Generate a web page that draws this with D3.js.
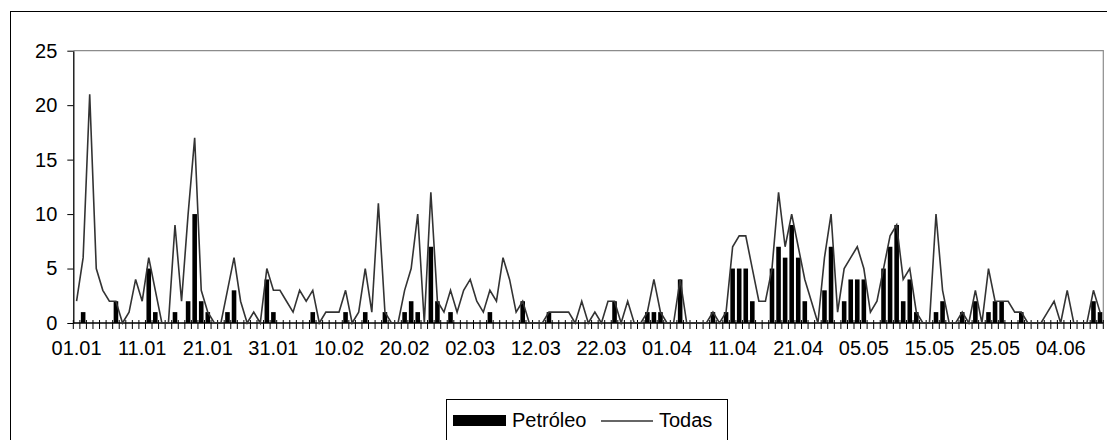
<!DOCTYPE html>
<html>
<head>
<meta charset="utf-8">
<script src="https://cdn.jsdelivr.net/npm/d3@7"></script>
<style>
body { margin: 0; background: #fff; }
svg { display: block; }
text { font-family: "Liberation Sans", Arial, sans-serif; fill: #000; }
</style>
</head>
<body>
<script>
// dias del eje (del 01.05 al 04.05 no hay datos)
const meses = [["01", 1, 31], ["02", 1, 28], ["03", 1, 31], ["04", 1, 30], ["05", 5, 31], ["06", 1, 10]];
const fechas = [];
meses.forEach(function (m) {
    for (var d = m[1]; d <= m[2]; d++) fechas.push(String(d).padStart(2, "0") + "." + m[0]);
});

const etiquetas = ["01.01", "11.01", "21.01", "31.01", "10.02", "20.02", "02.03", "12.03",
    "22.03", "01.04", "11.04", "21.04", "05.05", "15.05", "25.05", "04.06"];
const yTicks = [0, 5, 10, 15, 20, 25];

const todas = [
    2, 6, 21, 5, 3, 2, 2, 0, 1, 4,
    2, 6, 3, 0, 0, 9, 2, 10, 17, 3,
    1, 0, 0, 3, 6, 2, 0, 1, 0, 5,
    3, 3, 2, 1, 3, 2, 3, 0, 1, 1,
    1, 3, 0, 1, 5, 1, 11, 1, 0, 0,
    3, 5, 10, 0, 12, 2, 1, 3, 1, 3,
    4, 2, 1, 3, 2, 6, 4, 1, 2, 0,
    0, 0, 1, 1, 1, 1, 0, 2, 0, 1,
    0, 2, 2, 0, 2, 0, 0, 1, 4, 1,
    0, 0, 4, 0, 0, 0, 0, 1, 0, 1,
    7, 8, 8, 5, 2, 2, 5, 12, 7, 10,
    7, 4, 2, 0, 6, 10, 1, 5, 6, 7,
    5, 1, 2, 5, 8, 9, 4, 5, 1, 0,
    0, 10, 3, 0, 0, 1, 0, 3, 0, 5,
    2, 2, 2, 1, 1, 0, 0, 0, 1, 2,
    0, 3, 0, 0, 0, 3, 1
];

const petroleo = [
    0, 1, 0, 0, 0, 0, 2, 0, 0, 0,
    0, 5, 1, 0, 0, 1, 0, 2, 10, 2,
    1, 0, 0, 1, 3, 0, 0, 0, 0, 4,
    1, 0, 0, 0, 0, 0, 1, 0, 0, 0,
    0, 1, 0, 0, 1, 0, 0, 1, 0, 0,
    1, 2, 1, 0, 7, 2, 0, 1, 0, 0,
    0, 0, 0, 1, 0, 0, 0, 0, 2, 0,
    0, 0, 1, 0, 0, 0, 0, 0, 0, 0,
    0, 0, 2, 0, 0, 0, 0, 1, 1, 1,
    0, 0, 4, 0, 0, 0, 0, 1, 0, 1,
    5, 5, 5, 2, 0, 0, 5, 7, 6, 9,
    6, 2, 0, 0, 3, 7, 0, 2, 4, 4,
    4, 0, 0, 5, 7, 9, 2, 4, 1, 0,
    0, 1, 2, 0, 0, 1, 0, 2, 0, 1,
    2, 2, 0, 0, 1, 0, 0, 0, 0, 0,
    0, 0, 0, 0, 0, 2, 1
];

const W = 1107, H = 440;
const pLeft = 73.3, pRight = 1103.3, pTop = 50.7, pBottom = 323;
const fs = "20px";

var svg = d3.select("body").append("svg").attr("width", W).attr("height", H);

// marco exterior
svg.append("rect")
    .attr("x", 10.5).attr("y", 11.5)
    .attr("width", 1110).attr("height", 440)
    .attr("fill", "none").attr("stroke", "#000");

var x = d3.scaleBand()
    .domain(fechas)
    .range([pLeft, pRight])
    .paddingInner(0.3)
    .paddingOuter(0.15);

var y = d3.scaleLinear().domain([0, 25]).range([pBottom, pTop]);

// borde gris del area de trazado (arriba y derecha)
svg.append("path")
    .attr("d", "M" + pLeft + "," + y(25) + "H" + pRight + "V" + y(0))
    .attr("fill", "none").attr("stroke", "#8c8c8c").attr("stroke-width", 1.2);

// barras Petróleo
svg.append("g").selectAll("rect")
    .data(petroleo.map(function (v, i) { return { f: fechas[i], v: v }; }).filter(function (d) { return d.v > 0; }))
    .enter().append("rect")
    .attr("x", function (d) { return x(d.f); })
    .attr("width", x.bandwidth())
    .attr("y", function (d) { return y(d.v); })
    .attr("height", function (d) { return y(0) - y(d.v); })
    .attr("fill", "#000");

// eje x: marcas entre categorias
var paso = x.step();
svg.append("g").selectAll("line")
    .data(d3.range(fechas.length + 1))
    .enter().append("line")
    .attr("x1", function (i) { return pLeft + i * paso; })
    .attr("x2", function (i) { return pLeft + i * paso; })
    .attr("y1", y(0) - 3).attr("y2", y(0) + 6)
    .attr("stroke", "#000").attr("stroke-width", 1);

svg.append("line")
    .attr("x1", pLeft).attr("x2", pRight)
    .attr("y1", y(0)).attr("y2", y(0))
    .attr("stroke", "#000").attr("stroke-width", 1.3);

var xAxis = d3.axisBottom(x)
    .tickValues(fechas.filter(function (f) { return etiquetas.indexOf(f) >= 0; }))
    .tickSize(0)
    .tickPadding(0);

var gx = svg.append("g").attr("transform", "translate(0," + (y(0) + 26) + ")").call(xAxis);
gx.select(".domain").remove();
gx.selectAll("text").attr("dy", "0.32em").style("font-size", fs).style("font-family", null);

// linea Todas
var linea = d3.line()
    .x(function (d, i) { return x(fechas[i]) + x.bandwidth() / 2; })
    .y(function (d) { return y(d); });

svg.append("path")
    .datum(todas)
    .attr("d", linea)
    .attr("fill", "none")
    .attr("stroke", "#333")
    .attr("stroke-width", 1.6)
    .attr("stroke-linejoin", "miter");

// eje y
var yAxis = d3.axisLeft(y).tickValues(yTicks).tickSize(6).tickSizeOuter(0).tickPadding(10);
var gy = svg.append("g").attr("transform", "translate(" + pLeft + ",0)").call(yAxis);
gy.select(".domain").attr("stroke-width", 1.3);
gy.selectAll("text").style("font-size", fs).style("font-family", null);

// leyenda
var leg = svg.append("g");
leg.append("rect")
    .attr("x", 446.5).attr("y", 399.5).attr("width", 281).attr("height", 60)
    .attr("fill", "#fff").attr("stroke", "#000");
leg.append("rect")
    .attr("x", 453).attr("y", 415).attr("width", 53).attr("height", 11)
    .attr("fill", "#000");
leg.append("text").attr("x", 512).attr("y", 427).style("font-size", fs).text("Petróleo");
leg.append("line")
    .attr("x1", 601).attr("x2", 653).attr("y1", 421).attr("y2", 421)
    .attr("stroke", "#333").attr("stroke-width", 1.5);
leg.append("text").attr("x", 659).attr("y", 427).style("font-size", fs).text("Todas");
</script>
</body>
</html>
